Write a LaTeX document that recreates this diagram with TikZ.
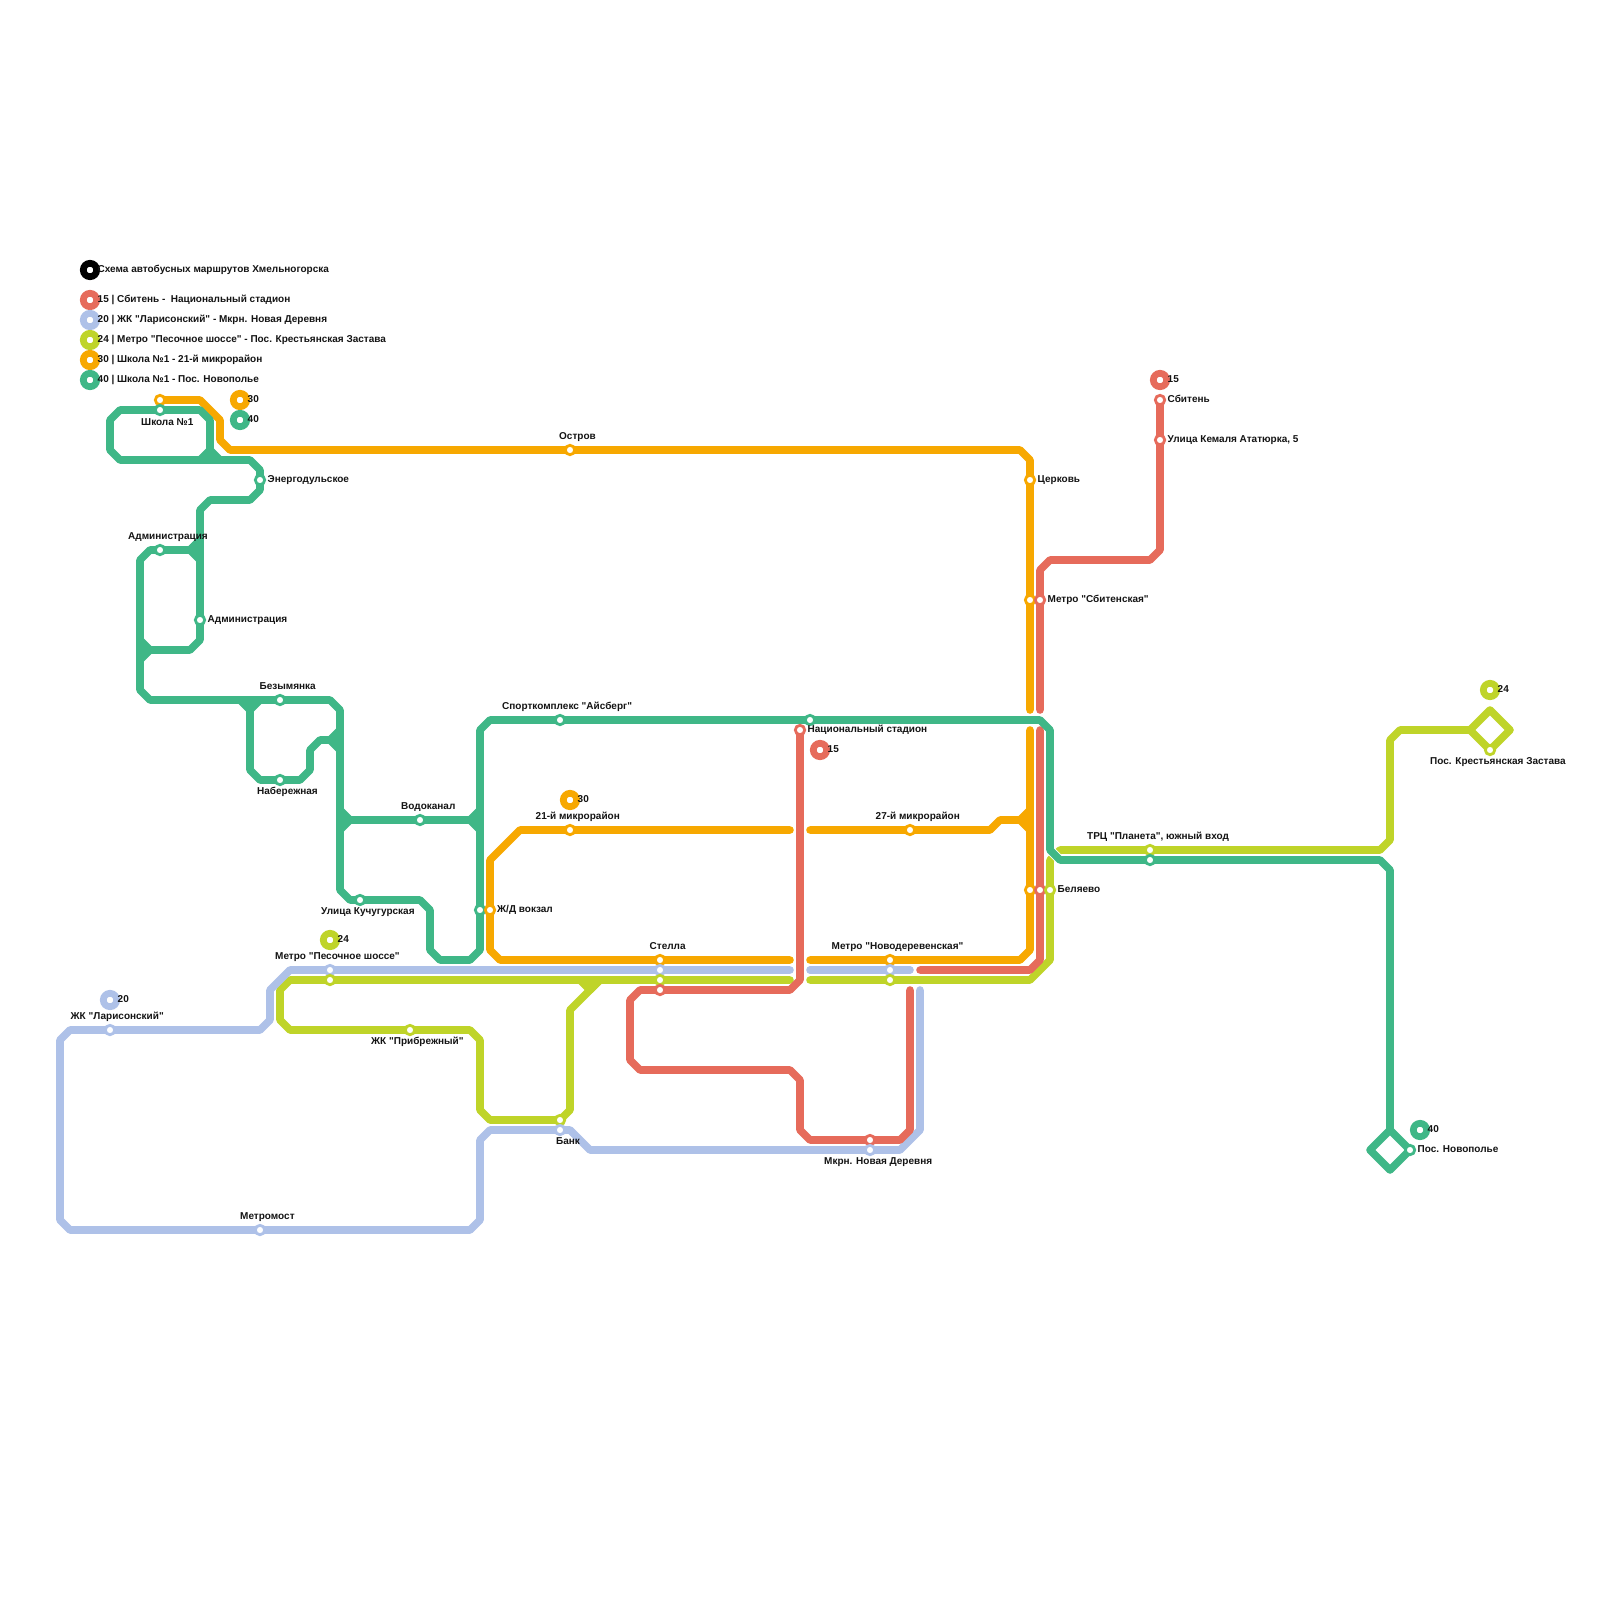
\documentclass[tikz,border=0pt]{standalone}
\usepackage{fontspec}
\setmainfont{Liberation Sans}[Ligatures=TeXOff]
\definecolor{rtA}{HTML}{E66B5B}
\definecolor{rtB}{HTML}{AEC1E8}
\definecolor{rtC}{HTML}{BFD429}
\definecolor{rtD}{HTML}{F7A800}
\definecolor{rtE}{HTML}{3FB787}
\definecolor{rtK}{HTML}{000000}
\tikzset{
  busline/.style={line width=7.6pt,line cap=round,line join=round},
  junction/.style={busline,draw=#1,fill=#1},
  st/.style={circle,fill=white,draw=#1,line width=2.8pt,minimum size=9.4pt,inner sep=0pt},
  term/.style={circle,fill=white,draw=#1,line width=6.7pt,minimum size=13.4pt,inner sep=0pt},
  lab/.style={anchor=base west,inner sep=0pt,font=\fontsize{10pt}{11pt}\bfseries,text=black!92},
}
\begin{document}
\begin{tikzpicture}[x=1pt,y=-1pt]
\useasboundingbox (0,0) rectangle (1600,1600);
\fill[white] (0,0) rectangle (1600,1600);
% station positions
\foreach \n/\x/\y in {
 ostrov/570/450, cerkov/1030/480, sbitO/1030/600, sbitR/1040/600, belO/1030/890, belR/1040/890, belC/1050/890,
 mk27/910/830, mk21/570/830, ndO/890/960, ndB/890/970, ndC/890/980, stO/660/960, stB/660/970, stC/660/980, stR/660/990,
 jdE/480/910, jdO/490/910, sbiten/1160/400, kemal/1160/440, nacst/800/730, mkrR/870/1140, mkrB/870/1150,
 lar/110/1030, metromost/260/1230, pesB/330/970, pesC/330/980, bankC/560/1120, bankB/560/1130, prib/410/1030,
 trcC/1150/850, trcE/1150/860, krest/1490/750, shkO/160/400, shkE/160/410, energ/260/480, admA/160/550, admB/200/620,
 bez/280/700, nab/280/780, vod/420/820, kuch/360/900, ais/560/720, nacE/810/720, novop/1410/1150}
 {\coordinate (c\n) at (\x,\y);}
% route 24
\draw[busline,rtC] (790,980) -- (cpesC) -- (290,980) -- (280,990) -- (280,1020) -- (290,1030) -- (cprib) -- (470,1030) -- (480,1040) -- (480,1110) -- (490,1120) -- (cbankC) -- (570,1110) -- (570,1010) -- (600,980);
\draw[junction=rtC] (580,980) -- (600,980) -- (590,990) -- cycle;
\draw[busline,rtC] (810,980) -- (cndC) -- (1030,980) -- (1050,960) -- (cbelC) -- (1050,860) -- (1060,850) -- (ctrcC) -- (1380,850) -- (1390,840) -- (1390,740) -- (1400,730) -- (1470,730);
\draw[busline,rtC] (1470,730) -- (1490,710) -- (1510,730) -- (1490,750) -- cycle;
% route 20
\draw[busline,rtB] (clar) -- (70,1030) -- (60,1040) -- (60,1220) -- (70,1230) -- (cmetromost) -- (470,1230) -- (480,1220) -- (480,1140) -- (490,1130) -- (cbankB) -- (570,1130) -- (590,1150) -- (cmkrB) -- (900,1150) -- (920,1130) -- (920,990);
\draw[busline,rtB] (clar) -- (260,1030) -- (270,1020) -- (270,990) -- (290,970) -- (cpesB) -- (cstB) -- (790,970);
\draw[busline,rtB] (810,970) -- (cndB) -- (910,970);
% route 30
\draw[busline,rtD] (cshkO) -- (200,400) -- (220,420) -- (220,440) -- (230,450) -- (costrov) -- (1020,450) -- (1030,460) -- (ccerkov) -- (csbitO) -- (1030,710);
\draw[busline,rtD] (1030,730) -- (cbelO) -- (1030,950) -- (1020,960) -- (cndO) -- (810,960);
\draw[busline,rtD] (790,960) -- (cstO) -- (500,960) -- (490,950) -- (cjdO) -- (490,860) -- (520,830) -- (cmk21) -- (790,830);
\draw[busline,rtD] (810,830) -- (cmk27) -- (990,830) -- (1000,820) -- (1020,820);
\draw[junction=rtD] (1020,820) -- (1030,810) -- (1030,830) -- cycle;
% route 15
\draw[busline,rtA] (csbiten) -- (ckemal) -- (1160,550) -- (1150,560) -- (1050,560) -- (1040,570) -- (csbitR) -- (1040,710);
\draw[busline,rtA] (1040,730) -- (cbelR) -- (1040,960) -- (1030,970) -- (920,970);
\draw[busline,rtA] (910,990) -- (910,1130) -- (900,1140) -- (cmkrR) -- (810,1140) -- (800,1130) -- (800,1080) -- (790,1070) -- (640,1070) -- (630,1060) -- (630,1000) -- (640,990) -- (cstR) -- (790,990) -- (800,980) -- (cnacst);
% route 40
\draw[line width=9.5pt,white] (1048,848) -- (1062,862);
\draw[busline,rtE] (cshkE) -- (120,410) -- (110,420) -- (110,450) -- (120,460) -- (200,460);
\draw[busline,rtE] (cshkE) -- (200,410) -- (210,420) -- (210,450);
\draw[junction=rtE] (200,460) -- (210,450) -- (220,460) -- cycle;
\draw[busline,rtE] (220,460) -- (250,460) -- (260,470) -- (cenerg) -- (260,490) -- (250,500) -- (210,500) -- (200,510) -- (cadmB) -- (200,640) -- (190,650) -- (150,650);
\draw[junction=rtE] (150,650) -- (140,640) -- (140,660) -- cycle;
\draw[busline,rtE] (200,540) -- (190,550) -- (cadmA) -- (150,550) -- (140,560) -- (140,690) -- (150,700) -- (cbez) -- (330,700) -- (340,710) -- (340,890) -- (350,900) -- (ckuch) -- (420,900) -- (430,910) -- (430,950) -- (440,960) -- (470,960) -- (480,950) -- (cjdE) -- (480,730) -- (490,720) -- (cais) -- (cnacE) -- (1040,720) -- (1050,730) -- (1050,850) -- (1060,860) -- (ctrcE) -- (1380,860) -- (1390,870) -- (1390,1130);
\draw[junction=rtE] (190,550) -- (200,540) -- (200,560) -- cycle;
\draw[junction=rtE] (240,700) -- (260,700) -- (250,710) -- cycle;
\draw[busline,rtE] (250,710) -- (250,770) -- (260,780) -- (cnab) -- (300,780) -- (310,770) -- (310,750) -- (320,740) -- (330,740);
\draw[junction=rtE] (330,740) -- (340,730) -- (340,750) -- cycle;
\draw[junction=rtE] (350,820) -- (340,810) -- (340,830) -- cycle;
\draw[busline,rtE] (350,820) -- (cvod) -- (470,820);
\draw[junction=rtE] (470,820) -- (480,810) -- (480,830) -- cycle;
\draw[busline,rtE] (1390,1130) -- (1410,1150) -- (1390,1170) -- (1370,1150) -- cycle;
% stations
\foreach \n/\c in {ostrov/rtD, cerkov/rtD, sbitO/rtD, sbitR/rtA, belO/rtD, belR/rtA, belC/rtC, mk27/rtD, mk21/rtD,
 ndO/rtD, ndB/rtB, ndC/rtC, stO/rtD, stB/rtB, stC/rtC, stR/rtA, jdE/rtE, jdO/rtD, sbiten/rtA, kemal/rtA, nacst/rtA,
 mkrR/rtA, mkrB/rtB, lar/rtB, metromost/rtB, pesB/rtB, pesC/rtC, bankC/rtC, bankB/rtB, prib/rtC, trcC/rtC, trcE/rtE,
 krest/rtC, shkO/rtD, shkE/rtE, energ/rtE, admA/rtE, admB/rtE, bez/rtE, nab/rtE, vod/rtE, kuch/rtE, ais/rtE, nacE/rtE, novop/rtE}
 {\node[st=\c] (st\n) at (c\n) {};}
% route markers
\foreach \n/\c/\x/\y in {lgK/rtK/90/270, lgA/rtA/90/300, lgB/rtB/90/320, lgC/rtC/90/340, lgD/rtD/90/360, lgE/rtE/90/380,
 mD/rtD/240/400, mE/rtE/240/420, mCa/rtC/330/940, mDb/rtD/570/800, mAa/rtA/820/750, mAb/rtA/1160/380, mB/rtB/110/1000, mCb/rtC/1490/690, mEb/rtE/1420/1130}
 {\node[term=\c] (\n) at (\x,\y) {};}
% labels
\node[lab] (tK) at (97.5,272) {Схема автобусных маршрутов Хмельногорска};
\node[lab] (tA) at (97.5,302) {15 | Сбитень -\ \ Национальный стадион};
\node[lab] (tB) at (97.5,322) {20 | ЖК "Ларисонский" - Мкрн. Новая Деревня};
\node[lab] (tC) at (97.5,342) {24 | Метро "Песочное шоссе" - Пос. Крестьянская Застава};
\node[lab] (tD) at (97.5,362) {30 | Школа №1 - 21-й микрорайон};
\node[lab] (tE) at (97.5,382) {40 | Школа №1 - Пос. Новополье};
\foreach \n/\x/\y/\t in {a1/247.5/402/30, a2/247.5/422/40, a3/337.5/942/24, a4/577.5/802/30, a5/827.5/752/15, a6/1167.5/382/15, a7/117.5/1002/20, a8/1497.5/692/24, a9/1427.5/1132/40}
 {\node[lab] (t\n) at (\x,\y) {\t};}
\node[lab] (l01) at (141,425) {Школа №1};
\node[lab] (l02) at (267.5,482) {Энергодульское};
\node[lab] (l03) at (128,539.5) {Администрация};
\node[lab] (l04) at (207.5,622) {Администрация};
\node[lab] (l05) at (259.5,689.5) {Безымянка};
\node[lab] (l06) at (257,794) {Набережная};
\node[lab] (l07) at (401,809) {Водоканал};
\node[lab] (l08) at (321,914) {Улица Кучугурская};
\node[lab] (l09) at (497,912) {Ж/Д вокзал};
\node[lab] (l10) at (275,959.5) {Метро "Песочное шоссе"};
\node[lab] (l11) at (371,1044) {ЖК "Прибрежный"};
\node[lab] (l12) at (556,1144) {Банк};
\node[lab] (l13) at (649.5,949.5) {Стелла};
\node[lab] (l14) at (831.5,949.5) {Метро "Новодеревенская"};
\node[lab] (l15) at (824,1164) {Мкрн. Новая Деревня};
\node[lab] (l16) at (1057.5,892) {Беляево};
\node[lab] (l17) at (1087,839.5) {ТРЦ "Планета", южный вход};
\node[lab] (l18) at (1430,764.5) {Пос. Крестьянская Застава};
\node[lab] (l19) at (1417.5,1152) {Пос. Новополье};
\node[lab] (l20) at (807.5,732) {Национальный стадион};
\node[lab] (l21) at (875.5,819.5) {27-й микрорайон};
\node[lab] (l22) at (1167.5,402) {Сбитень};
\node[lab] (l23) at (1167.5,442) {Улица Кемаля Ататюрка, 5};
\node[lab] (l24) at (1047.5,602) {Метро "Сбитенская"};
\node[lab] (l25) at (1037.5,482) {Церковь};
\node[lab] (l26) at (559,439.5) {Остров};
\node[lab] (l27) at (502,709.5) {Спорткомплекс "Айсберг"};
\node[lab] (l28) at (535.5,819.5) {21-й микрорайон};
\node[lab] (l29) at (70.5,1019.5) {ЖК "Ларисонский"};
\node[lab] (l30) at (240,1219.5) {Метромост};
\end{tikzpicture}
\end{document}
